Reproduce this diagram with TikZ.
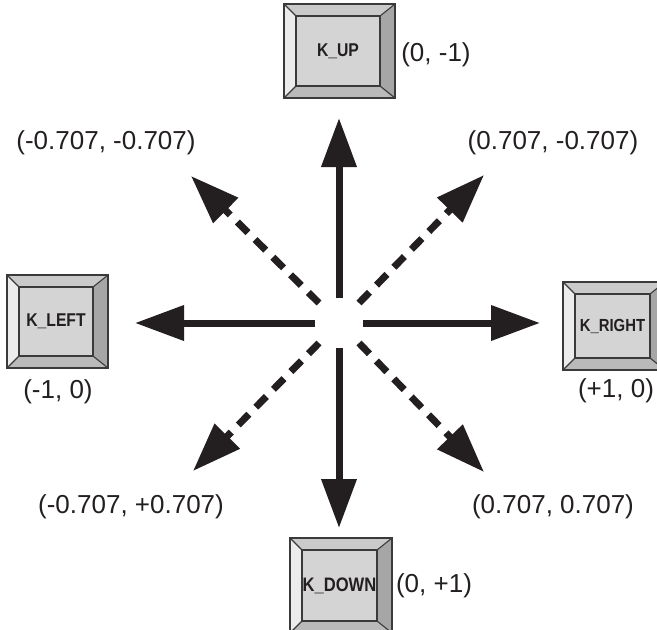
\documentclass[tikz,border=0pt]{standalone}
\usepackage{fontspec}
\setmainfont{Liberation Sans}
\newfontfamily\keyfont[FakeStretch=0.85]{Liberation Sans}
\usetikzlibrary{arrows.meta}
\definecolor{ink}{HTML}{231F20}
\definecolor{edgec}{HTML}{3A3A3A}
\definecolor{facec}{HTML}{D4D4D4}
\definecolor{topc}{HTML}{CACACA}
\definecolor{leftc}{HTML}{ECECEC}
\definecolor{rightc}{HTML}{A6A6A6}
\definecolor{botc}{HTML}{BABABA}
\tikzset{
  keyline/.style={draw=edgec, line width=1.1pt, line join=miter},
  keyface/.style={fill=facec, draw=edgec, line width=1.1pt, inner sep=0pt,
    font=\keyfont\bfseries\fontsize{18.5}{18.5}\selectfont, text=ink},
  coordlabel/.style={inner sep=0pt, font=\fontsize{26}{26}\selectfont, text=ink},
  bigarrow/.style={draw=ink, line width=7pt, -{Triangle[length=49pt, width=34pt]}},
  dasharrow/.style={bigarrow, dash pattern=on 15pt off 10pt}
}
% \keycap{name}{x1}{y1}{x2}{y2}{label}{extra options}
\newcommand\keycap[7]{%
  \fill[leftc] (#2,#3) -- ({#2+12},{#3+12}) -- ({#2+12},{#5-12}) -- (#2,#5) -- cycle;
  \fill[topc] (#2,#3) -- (#4,#3) -- ({#4-15},{#3+12}) -- ({#2+12},{#3+12}) -- cycle;
  \fill[rightc] (#4,#3) -- (#4,#5) -- ({#4-15},{#5-12}) -- ({#4-15},{#3+12}) -- cycle;
  \fill[botc] (#2,#5) -- (#4,#5) -- ({#4-15},{#5-12}) -- ({#2+12},{#5-12}) -- cycle;
  \draw[keyline] (#2,#3) rectangle (#4,#5);
  \draw[keyline] (#2,#3) -- ({#2+12},{#3+12});
  \draw[keyline] (#4,#3) -- ({#4-15},{#3+12});
  \draw[keyline] (#2,#5) -- ({#2+12},{#5-12});
  \draw[keyline] (#4,#5) -- ({#4-15},{#5-12});
  \node[keyface, minimum width={#4-#2-27}, minimum height={#5-#3-24}, #7]
    (#1) at ({(#2+#4-3)/2},{(#3+#5)/2}) {#6};
}
\begin{document}
\begin{tikzpicture}[x=1pt, y=-1pt]
\useasboundingbox (0,0) rectangle (657,630);
\clip (0,0) rectangle (657,630);
\fill[white] (0,0) rectangle (657,630);

% keys
\keycap{kup}{284}{4}{395}{98}{K\_UP}{}
\keycap{kleft}{7}{275}{108}{368}{K\_LEFT}{}
\keycap{kright}{563}{282}{665}{370}{K\_RIGHT}{font=\keyfont\bfseries\fontsize{17.5}{17.5}\selectfont}
\keycap{kdown}{290}{538}{392}{633}{K\_DOWN}{font=\keyfont\bfseries\fontsize{19.5}{19.5}\selectfont}

% centre and arrow ends
\coordinate (c) at (339,323);
\coordinate (sN) at (339,298);  \coordinate (tN) at (339,118);
\coordinate (sS) at (339,348);  \coordinate (tS) at (339,528);
\coordinate (sW) at (315,323);  \coordinate (tW) at (135,323);
\coordinate (sE) at (363,323);  \coordinate (tE) at (540,323);
\coordinate (sNW) at (319,303); \coordinate (tNW) at (191,176);
\coordinate (sNE) at (359,303); \coordinate (tNE) at (484,175);
\coordinate (sSE) at (359,343); \coordinate (tSE) at (484,472);
\coordinate (sSW) at (319,343); \coordinate (tSW) at (193,471);

\draw[bigarrow] (sN) -- (tN);
\draw[bigarrow] (sS) -- (tS);
\draw[bigarrow] (sW) -- (tW);
\draw[bigarrow] (sE) -- (tE);
\draw[dasharrow] (sNW) -- (tNW);
\draw[dasharrow] (sNE) -- (tNE);
\draw[dasharrow] (sSE) -- (tSE);
\draw[dasharrow] (sSW) -- (tSW);

% labels
\node[coordlabel] (lup) at (436,55) {(0, -1)};
\node[coordlabel] (ldown) at (434,586) {(0, +1)};
\node[coordlabel] (lleft) at (58,392) {(-1, 0)};
\node[coordlabel] (lright) at (616,391) {(+1, 0)};
\node[coordlabel] (lnw) at (106,143) {(-0.707, -0.707)};
\node[coordlabel] (lne) at (553,143) {(0.707, -0.707)};
\node[coordlabel] (lsw) at (131,507) {(-0.707, +0.707)};
\node[coordlabel] (lse) at (553,507) {(0.707, 0.707)};
\end{tikzpicture}
\end{document}
